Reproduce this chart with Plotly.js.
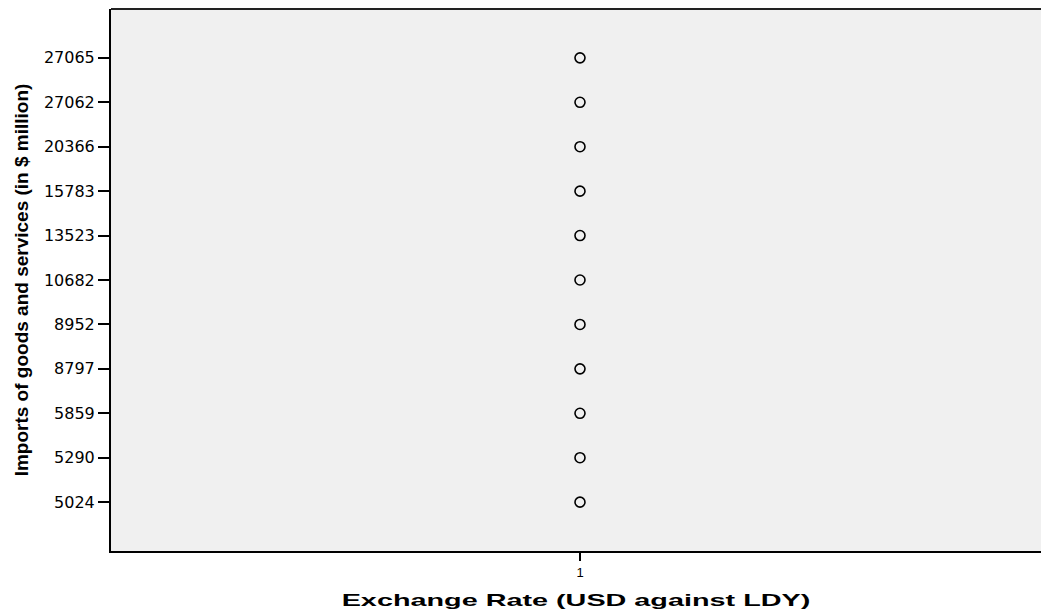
<!DOCTYPE html>
<html><head><meta charset="utf-8">
<script src="https://cdn.plot.ly/plotly-3.0.1.min.js"></script>
<style>
body{margin:0;background:#fff}#c{width:1041px;height:614px}
.g-xtitle text{transform-box:fill-box;transform-origin:center;transform:scaleX(1.8);}
</style>
</head><body><div id="c"></div>
<script>
const exchangeRate = [1,1,1,1,1,1,1,1,1,1,1];
const imports = ['5024','5290','5859','8797','8952','10682','13523','15783','20366','27062','27065'];
const xTickLabels = ['1'];

const trace = {
  x: exchangeRate, y: imports, type: 'scatter', mode: 'markers',
  marker: {symbol: 'circle-open', size: 10, color: '#000', line: {width: 1.6, color: '#000'}},
  hoverinfo: 'x+y'
};
const layout = {
  width: 1041, height: 614,
  margin: {l: 111, r: 0, t: 9, b: 63},
  paper_bgcolor: '#ffffff', plot_bgcolor: '#f0f0f0',
  showlegend: false,
  font: {family: 'Liberation Sans, Arial, sans-serif', color: '#000'},
  xaxis: {
    range: [0, 1.983], tickvals: [1], ticktext: xTickLabels,
    showgrid: false, zeroline: false, showline: true, linecolor: '#000', linewidth: 2,
    ticks: 'outside', ticklen: 8, tickwidth: 2, tickcolor: '#000',
    tickfont: {size: 13},
    title: {text: '<b>Exchange Rate (USD against LDY)</b>', font: {size: 16}, standoff: 16}
  },
  yaxis: {
    type: 'category', categoryorder: 'array', categoryarray: imports,
    range: [-1.1, 11.1],
    showgrid: false, zeroline: false, showline: true, linecolor: '#000', linewidth: 2,
    ticks: 'outside', ticklen: 11, tickwidth: 2, tickcolor: '#000',
    tickfont: {size: 16, family: 'DejaVu Sans, sans-serif'},
    title: {text: '<b>Imports of goods and services (in $ million)</b>', font: {size: 19}, standoff: 10}
  },
  shapes: [{type: 'line', xref: 'paper', yref: 'paper', x0: 0, x1: 1, y0: 1, y1: 1, line: {color: '#222', width: 2}}]
};
Plotly.newPlot('c', [trace], layout, {displayModeBar: false, staticPlot: true});
</script></body></html>
